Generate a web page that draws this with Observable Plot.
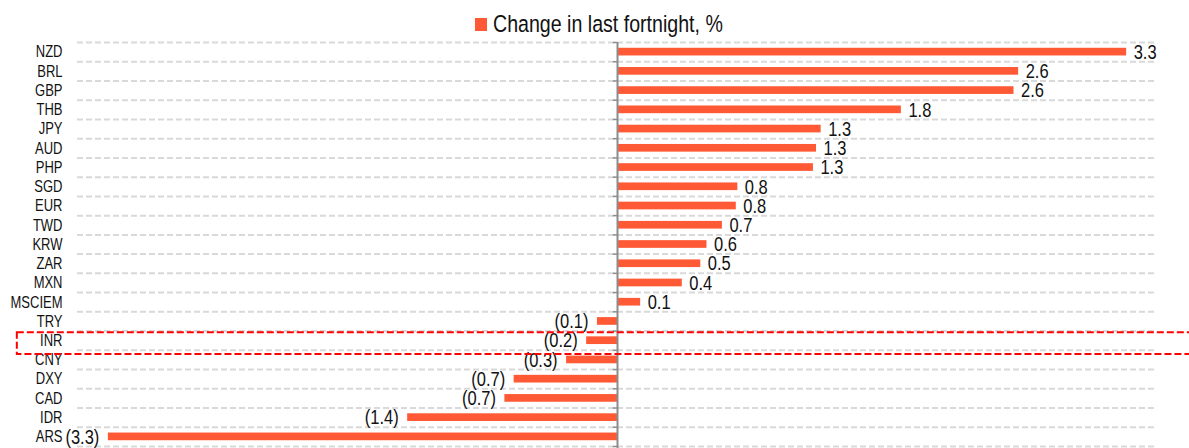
<!DOCTYPE html>
<html>
<head>
<meta charset="utf-8">
<script src="https://cdn.jsdelivr.net/npm/d3@7"></script>
<script src="https://cdn.jsdelivr.net/npm/@observablehq/plot@0.6"></script>
<style>
  html, body { margin: 0; padding: 0; background: #fff; overflow: hidden; }
  body { width: 1189px; height: 448px; font-family: "Liberation Sans", Arial, sans-serif; }
  #legend { box-sizing: border-box; height: 38px; padding-top: 10px; padding-left: 475px;
            display: flex; align-items: center; font-size: 19.6px; color: #111; }
  #legend .sw { width: 12px; height: 13px; background: #ff5a35; margin-right: 6px; }
  #legend .txt { display: inline-block; transform: scaleY(1.18); }
  #chart svg { overflow: visible; display: block; }
</style>
</head>
<body>
<div id="legend"><span class="sw"></span><span class="txt">Change in last fortnight, %</span></div>
<div id="chart"></div>
<script>
const categories = ["NZD","BRL","GBP","THB","JPY","AUD","PHP","SGD","EUR","TWD","KRW","ZAR","MXN","MSCIEM","TRY","INR","CNY","DXY","CAD","IDR","ARS"];
const values = [3.30, 2.60, 2.57, 1.84, 1.32, 1.29, 1.27, 0.78, 0.77, 0.68, 0.58, 0.54, 0.42, 0.15, -0.13, -0.20, -0.33, -0.67, -0.73, -1.36, -3.30];
const valueLabels = ["3.3","2.6","2.6","1.8","1.3","1.3","1.3","0.8","0.8","0.7","0.6","0.5","0.4","0.1","(0.1)","(0.2)","(0.3)","(0.7)","(0.7)","(1.4)","(3.3)"];
const highlighted = ["INR"];
const xDomain = [-3.5, 3.5];
const highlightExtent = [-3.89, 3.8];

const data = categories.map((c, i) => ({cat: c, value: values[i], label: valueLabels[i]}));

const W = 1189, H = 410, mt = 4, mb = 2;
const step = (H - mt - mb) / categories.length;
const barColor = "#ff5a35";

const chart = Plot.plot({
  width: W,
  height: H,
  marginLeft: 77,
  marginRight: 32,
  marginTop: mt,
  marginBottom: mb,
  style: {fontFamily: "'Liberation Sans', Arial, sans-serif", background: "#fff", color: "#000"},
  x: {domain: xDomain, axis: null},
  y: {domain: categories, paddingInner: 0.6, paddingOuter: 0.3, round: false, axis: null},
  marks: [
    // dashed gridlines at band boundaries
    Plot.ruleY(categories, {y: d => d, dy: -step / 2, stroke: "#d9d9d9", strokeWidth: 2, strokeDasharray: "6,3"}),
    Plot.ruleY(categories.slice(-1), {y: d => d, dy: step / 2, stroke: "#d9d9d9", strokeWidth: 2, strokeDasharray: "6,3"}),
    // bars
    Plot.barX(data, {x: "value", y: "cat", fill: barColor}),
    // zero axis line and ticks
    Plot.ruleX([0], {stroke: "#8c8c8c", strokeWidth: 2, insetBottom: -3}),
    Plot.ruleY(categories, {y: d => d, dy: -step / 2, x1: -0.027, x2: 0, stroke: "#8c8c8c", strokeWidth: 1.5}),
    Plot.ruleY(categories.slice(-1), {y: d => d, dy: step / 2, x1: -0.027, x2: 0, stroke: "#8c8c8c", strokeWidth: 1.5}),
    // category axis
    Plot.axisY({tickSize: 0, tickPadding: 15, fontSize: 13, label: null, fill: "#111"}),
    // value labels
    Plot.text(data.filter(d => d.value >= 0), {x: "value", y: "cat", text: "label", textAnchor: "start", dx: 7, fontSize: 16.5, fill: "#111"}),
    Plot.text(data.filter(d => d.value < 0), {x: "value", y: "cat", text: "label", textAnchor: "end", dx: -9, fontSize: 16.5, fill: "#111"}),
    // highlight box
    Plot.barX(highlighted, {y: d => d, x1: () => highlightExtent[0], x2: () => highlightExtent[1], fill: "none", stroke: "#ff0000", strokeWidth: 2, strokeDasharray: "7,3", insetTop: -4, insetBottom: -10})
  ]
});

// vertically stretch the text like the reference's (scaled around each label's anchor)
const stretch = 1.27;
chart.querySelectorAll("text").forEach(t => {
  const tr = t.getAttribute("transform");
  if (tr) {
    t.setAttribute("transform", tr + ` scale(1,${stretch})`);
  } else {
    const x = +(t.getAttribute("x") || 0), y = +(t.getAttribute("y") || 0);
    t.setAttribute("transform", `translate(${x},${y}) scale(1,${stretch}) translate(${-x},${-y})`);
  }
});

document.getElementById("chart").appendChild(chart);
</script>
</body>
</html>
